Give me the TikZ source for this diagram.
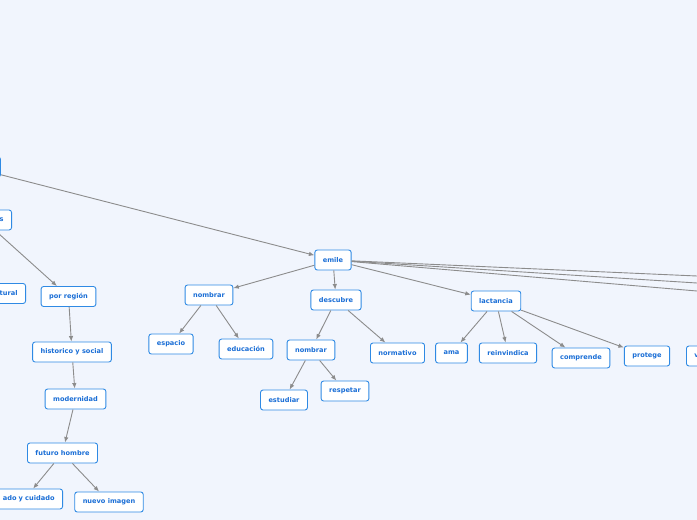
\documentclass[tikz,border=0pt]{standalone}
\usepackage{fontspec}
\setmainfont{DejaVu Sans}
\usepackage{tikz}
\usetikzlibrary{arrows.meta}
\definecolor{fondo}{HTML}{F1F5FD}
\definecolor{azul}{HTML}{1A6ED6}
\definecolor{borde}{HTML}{2F8AE4}
\definecolor{gris}{HTML}{8C8C8C}
\tikzset{
  tema/.style={draw=borde, fill=white, rounded corners=2.5pt, line width=0.9pt, text=azul,
    font=\bfseries\fontsize{6.6}{7.5}\selectfont, minimum height=20pt, inner xsep=8pt, inner ysep=0pt},
  corte/.style={tema, text width=#1, align=right, anchor=east},
  rama/.style={->, draw=gris, line width=0.9pt},
  linea/.style={draw=gris, line width=0.9pt}
}

\begin{document}
\begin{tikzpicture}[x=1pt,y=-1pt,>={Latex[length=5.5pt,width=4.5pt]}]
  \useasboundingbox (0,0) rectangle (697,520);
  \fill[fondo] (0,0) rectangle (697,520);
  \clip (0,0) rectangle (697,520);

  % nodos cortados en el borde izquierdo
  \node[tema, minimum width=60pt, anchor=east] (raiz) at (1,167) {};
  \node[corte=40pt] (ramaS) at (12,220) {s};
  \node[corte=40pt] (tural) at (26,293.5) {tural};
  \node[corte=60pt] (aseado) at (63,499) {ado y cuidado};

  % rama izquierda
  \node[tema] (region) at (68.5,296.5) {por región};
  \node[tema] (historico) at (72,352) {historico y social};
  \node[tema] (modernidad) at (75.5,399) {modernidad};
  \node[tema] (futuro) at (62.5,453) {futuro hombre};
  \node[tema] (nuevo) at (109,502) {nuevo imagen};

  % emile
  \node[tema] (emile) at (333,260) {emile};
  \node[tema] (nombrarA) at (209,295) {nombrar};
  \node[tema] (espacio) at (171,344) {espacio};
  \node[tema] (educacion) at (246,349) {educación};
  \node[tema] (descubre) at (336,300) {descubre};
  \node[tema] (nombrarB) at (311,350) {nombrar};
  \node[tema] (estudiar) at (284,400) {estudiar};
  \node[tema] (respetar) at (345,391) {respetar};
  \node[tema] (normativo) at (397.5,353) {normativo};
  \node[tema] (lactancia) at (496,301) {lactancia};
  \node[tema] (ama) at (451.5,353) {ama};
  \node[tema] (reinvindica) at (508,353) {reinvindica};
  \node[tema] (comprende) at (581,358) {comprende};
  \node[tema] (protege) at (647,356) {protege};
  \node[tema, anchor=west, minimum width=30pt, text width=14pt, align=left] (ramaV) at (686,356) {v};

  % salidas hacia la derecha
  \coordinate (fueraA) at (697,276);
  \coordinate (fueraB) at (697,283);
  \coordinate (fueraC) at (697,291);

  % conectores
  \draw[rama] (raiz) -- (emile);
  \draw[rama] (ramaS) -- (region);
  \draw[rama] (region) -- (historico);
  \draw[rama] (historico) -- (modernidad);
  \draw[rama] (modernidad) -- (futuro);
  \draw[rama] (futuro) -- (aseado);
  \draw[rama] (futuro) -- (nuevo);

  \draw[rama] (emile) -- (nombrarA);
  \draw[rama] (emile) -- (descubre);
  \draw[rama] (emile) -- (lactancia);
  \draw[linea] (emile) -- (fueraA);
  \draw[linea] (emile) -- (fueraB);
  \draw[linea] (emile) -- (fueraC);

  \draw[rama] (nombrarA) -- (espacio);
  \draw[rama] (nombrarA) -- (educacion);
  \draw[rama] (descubre) -- (nombrarB);
  \draw[rama] (descubre) -- (normativo);
  \draw[rama] (nombrarB) -- (estudiar);
  \draw[rama] (nombrarB) -- (respetar);

  \draw[rama] (lactancia) -- (ama);
  \draw[rama] (lactancia) -- (reinvindica);
  \draw[rama] (lactancia) -- (comprende);
  \draw[rama] (lactancia) -- (protege);
\end{tikzpicture}
\end{document}
